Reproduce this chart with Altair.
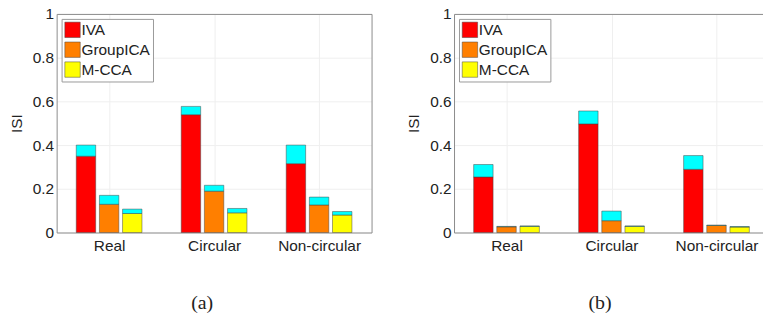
import json
import altair as alt
import pandas as pd

# ---------------- data ----------------
categories = ["Real", "Circular", "Non-circular"]
methods = ["IVA", "GroupICA", "M-CCA"]
colors = ["#FF0000", "#FF7F00", "#FFFF00"]
std_color = "#00FFFF"

# panel (a): mean ISI and its spread (cyan part on top)
a_mean = {
    "IVA": [0.349, 0.539, 0.315],
    "GroupICA": [0.129, 0.189, 0.126],
    "M-CCA": [0.087, 0.090, 0.080],
}
a_std = {
    "IVA": [0.051, 0.038, 0.085],
    "GroupICA": [0.041, 0.027, 0.036],
    "M-CCA": [0.020, 0.020, 0.016],
}
# panel (b)
b_mean = {
    "IVA": [0.254, 0.497, 0.289],
    "GroupICA": [0.026, 0.054, 0.032],
    "M-CCA": [0.028, 0.028, 0.025],
}
b_std = {
    "IVA": [0.057, 0.059, 0.063],
    "GroupICA": [0.002, 0.044, 0.002],
    "M-CCA": [0.002, 0.002, 0.002],
}

# ---------------- style ----------------
FONT = "Liberation Sans"
TXT = "#222222"
AXC = "#8c8c8c"
GRID = "#efefef"
BAR_W = 0.185
OFFSETS = {"IVA": -0.2205, "GroupICA": 0.0, "M-CCA": 0.2205}
PH = 220


def table(mean, std):
    rows = []
    for m in methods:
        for i, c in enumerate(categories):
            rows.append({"category": c, "method": m, "pos": i + 1 + OFFSETS[m],
                         "mean": mean[m][i], "std": std[m][i]})
    return pd.DataFrame(rows)


label_expr = json.dumps(categories) + "[datum.value - 1]"


def panel(df, xmax, width, title, dx, right_axis):
    base = alt.Chart(df).transform_calculate(
        x0=f"datum.pos - {BAR_W / 2}",
        x1=f"datum.pos + {BAR_W / 2}",
        top="datum.mean + datum.std",
        zero="0",
    )
    xscale = alt.Scale(domain=[0.5, xmax], nice=False, zero=False)
    yscale = alt.Scale(domain=[0, 1], nice=False)
    main = base.mark_bar(stroke="#444444", strokeWidth=0.5).encode(
        x=alt.X("x0:Q", scale=xscale,
                axis=alt.Axis(values=[1, 2, 3], labelExpr=label_expr, title=None,
                              orient="bottom", ticks=False, labelPadding=6,
                              grid=True, gridColor=GRID, domainColor=AXC,
                              labelFont=FONT, labelFontSize=15.5, labelColor=TXT,
                              labelOverlap=False)),
        x2="x1:Q",
        y=alt.Y("mean:Q", scale=yscale, stack=None,
                axis=alt.Axis(values=[0, 0.2, 0.4, 0.6, 0.8, 1], format="~g",
                              title="ISI", orient="left", ticks=False,
                              labelPadding=3, titlePadding=8,
                              grid=True, gridColor=GRID, domainColor=AXC,
                              labelFont=FONT, labelFontSize=15.5, labelColor=TXT,
                              titleFont=FONT, titleFontSize=15.5,
                              titleFontWeight="normal", titleColor=TXT)),
        y2="zero:Q",
        color=alt.Color("method:N",
                        scale=alt.Scale(domain=methods, range=colors),
                        legend=alt.Legend(
                            title=None, orient="none", legendX=5, legendY=5,
                            symbolType="square", symbolSize=240,
                            symbolStrokeColor="#444444", symbolStrokeWidth=0.5,
                            labelFont=FONT, labelFontSize=15.5, labelColor=TXT,
                            labelOffset=1, rowPadding=2, padding=3,
                            strokeColor="#9a9a9a", fillColor="white",
                            cornerRadius=0)),
    )
    yaxis2 = (alt.Axis(orient="right", labels=False, ticks=False, grid=False,
                       title=None, domainColor=AXC)
              if right_axis else None)
    extra = base.mark_bar(stroke="#444444", strokeWidth=0.5, color=std_color).encode(
        x=alt.X("x0:Q", scale=xscale,
                axis=alt.Axis(orient="top", labels=False, ticks=False, grid=False,
                              title=None, domainColor=AXC)),
        x2="x1:Q",
        y=alt.Y("mean:Q", scale=yscale, axis=yaxis2, stack=None),
        y2="top:Q",
    )
    return alt.layer(main, extra).resolve_axis(x="independent", y="independent").properties(
        width=width, height=PH,
        title=alt.TitleParams(title, orient="bottom", anchor="middle", frame="group",
                              dx=dx, offset=39, font="Liberation Serif",
                              fontSize=20, fontWeight="normal", color=TXT),
    )


pa = panel(table(a_mean, a_std), 3.5, 317, "(a)", -12, True)
pb = panel(table(b_mean, b_std), 3.443, 311, "(b)", -8.5, False)

chart = alt.hconcat(pa, pb, spacing=35).resolve_legend(color="independent").properties(
    padding={"left": 9, "top": 6, "right": 0, "bottom": 0},
).configure_view(strokeWidth=0)

chart.save("out.html", embed_options={"renderer": "svg", "actions": False})
